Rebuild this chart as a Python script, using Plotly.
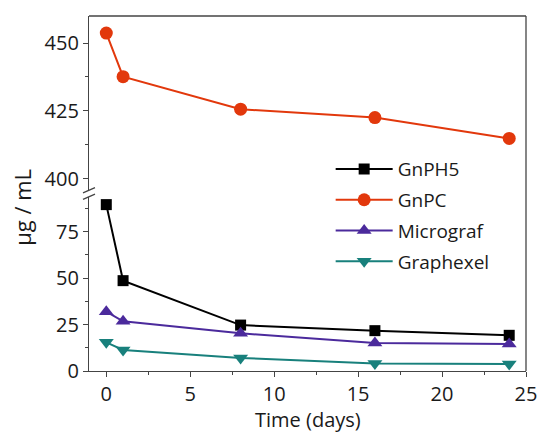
import plotly.graph_objects as go

# Sampling times (days)
days = [0, 1, 8, 16, 24]

# Concentrations (µg / mL)
gnph5 = [89.5, 48.6, 24.7, 21.7, 19.2]
gnpc = [453.7, 437.6, 425.6, 422.5, 414.8]
micrograf = [31.9, 26.7, 20.3, 15.0, 14.5]
graphexel = [15.4, 11.3, 7.0, 4.1, 3.8]

FONT = "Open Sans"
AXIS_COLOR = "#444444"
TEXT_COLOR = "#1a1a1a"

fig = go.Figure()

fig.add_trace(go.Scatter(
    x=days, y=gnph5, name="GnPH5", legendgroup="a", mode="lines+markers",
    line=dict(color="#000000", width=2),
    marker=dict(symbol="square", size=11, color="#000000"),
    yaxis="y"))
fig.add_trace(go.Scatter(
    x=days, y=gnpc, name="GnPC", legendgroup="b", mode="lines+markers",
    line=dict(color="#E2380C", width=2),
    marker=dict(symbol="circle", size=13, color="#E2380C"),
    yaxis="y2"))
fig.add_trace(go.Scatter(
    x=days, y=micrograf, name="Micrograf", legendgroup="c", mode="lines+markers",
    line=dict(color="#4B2A9C", width=2),
    marker=dict(symbol="triangle-up", size=13, color="#4B2A9C"),
    yaxis="y"))
fig.add_trace(go.Scatter(
    x=days, y=graphexel, name="Graphexel", legendgroup="d", mode="lines+markers",
    line=dict(color="#18807C", width=2),
    marker=dict(symbol="triangle-down", size=13, color="#18807C"),
    yaxis="y"))

tick_font = dict(family=FONT, size=20, color=TEXT_COLOR)

fig.update_layout(
    width=539, height=434,
    margin=dict(l=89, r=13, t=16, b=63, autoexpand=False),
    paper_bgcolor="white", plot_bgcolor="white",
    font=dict(family=FONT, color=TEXT_COLOR),
    showlegend=True,
    legend=dict(
        x=0.553, y=0.622, xanchor="left", yanchor="top",
        bgcolor="rgba(0,0,0,0)", borderwidth=0,
        font=dict(family=FONT, size=19, color=TEXT_COLOR),
        traceorder="grouped", tracegroupgap=3, itemwidth=57,
    ),
    xaxis=dict(
        range=[-1.03, 25], anchor="y", automargin=False,
        showgrid=False, zeroline=False,
        showline=True, linecolor=AXIS_COLOR, linewidth=1.3,
        ticks="outside", ticklen=5, tickcolor=AXIS_COLOR, tickwidth=1.3,
        tickvals=[0, 5, 10, 15, 20, 25], tickfont=tick_font,
        minor=dict(ticks="outside", ticklen=2.5, dtick=2.5, tick0=0,
                   tickcolor=AXIS_COLOR, tickwidth=1.3),
    ),
    yaxis=dict(
        domain=[0, 0.49], range=[0, 93.57], anchor="x", automargin=False,
        showgrid=False, zeroline=False,
        showline=True, linecolor=AXIS_COLOR, linewidth=1.3,
        ticks="outside", ticklen=5, tickcolor=AXIS_COLOR, tickwidth=1.3,
        tickvals=[0, 25, 50, 75], tickfont=tick_font,
        minor=dict(ticks="outside", ticklen=2.5, dtick=12.5, tick0=0,
                   tickcolor=AXIS_COLOR, tickwidth=1.3),
    ),
    yaxis2=dict(
        domain=[0.51, 1], range=[395.8, 460], anchor="x", automargin=False,
        showgrid=False, zeroline=False,
        showline=True, linecolor=AXIS_COLOR, linewidth=1.3,
        ticks="outside", ticklen=5, tickcolor=AXIS_COLOR, tickwidth=1.3,
        tickvals=[400, 425, 450], tickfont=tick_font,
        minor=dict(ticks="outside", ticklen=2.5, dtick=12.5, tick0=400,
                   tickcolor=AXIS_COLOR, tickwidth=1.3),
    ),
)

# Frame: top and right borders spanning both panels
fig.add_shape(type="line", xref="paper", yref="paper", x0=0, x1=1, y0=1, y1=1,
              line=dict(color=AXIS_COLOR, width=1.3))
fig.add_shape(type="line", xref="paper", yref="paper", x0=1, x1=1, y0=0, y1=1,
              line=dict(color=AXIS_COLOR, width=1.3))

# Axis-break marks on the left axis
for dy in (3.2, -3.3):
    fig.add_shape(type="line", xref="paper", yref="paper",
                  xsizemode="pixel", ysizemode="pixel", xanchor=0, yanchor=0.5,
                  x0=-6, x1=6, y0=dy - 2.6, y1=dy + 2.6,
                  line=dict(color=AXIS_COLOR, width=1.3))

# Axis titles
fig.add_annotation(text="Time (days)", xref="paper", yref="paper",
                   x=0.5, y=-0.138, showarrow=False,
                   xanchor="center", yanchor="middle",
                   font=dict(family=FONT, size=20, color=TEXT_COLOR))
fig.add_annotation(text="μg / mL", xref="paper", yref="paper",
                   x=-0.153, y=0.46, textangle=-90, showarrow=False,
                   xanchor="center", yanchor="middle",
                   font=dict(family=FONT, size=22, color=TEXT_COLOR))

fig.write_html("out.html")
